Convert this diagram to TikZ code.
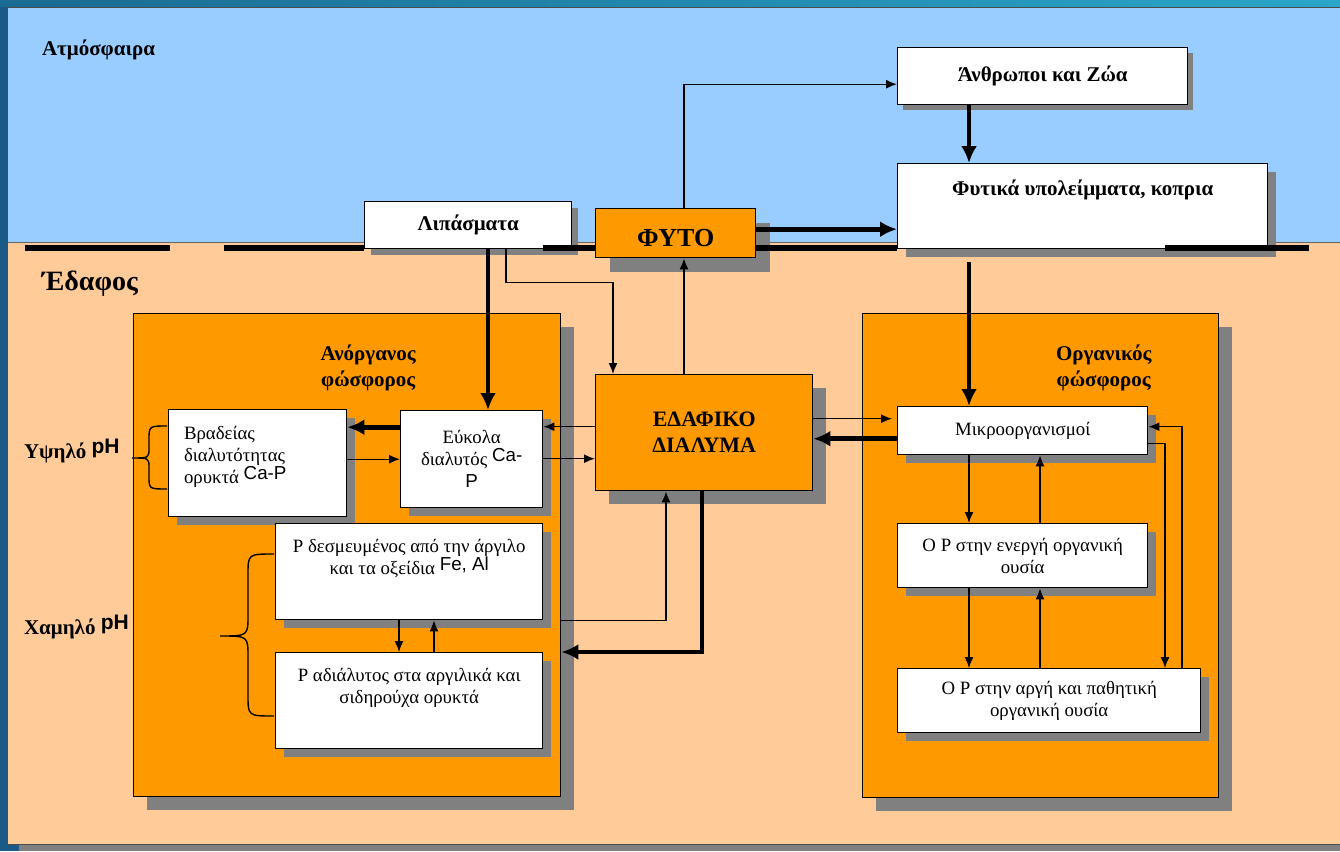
\documentclass[tikz,border=0pt]{standalone}
\usepackage{fontspec}
\setmainfont{Liberation Serif}
\newfontfamily\sansf{Liberation Sans}
\usetikzlibrary{arrows.meta,shadows}

\definecolor{sky}{HTML}{99CCFF}
\definecolor{soil}{HTML}{FFCC99}
\definecolor{orng}{HTML}{FF9900}
\definecolor{shadowgray}{HTML}{808080}
\definecolor{frameblue}{HTML}{1B5A86}
\definecolor{bandleft}{HTML}{1A6A92}
\definecolor{bandright}{HTML}{2AA6C8}

\newcommand\txtsize{\fontsize{18.8}{22}\selectfont}
\newcommand\labsize{\fontsize{21}{26}\selectfont\bfseries}

\begin{document}
\begin{tikzpicture}[x=1pt, y=-1pt, >={Latex[length=11pt,width=9pt]}, line width=1.4pt,
    box/.style={draw, line width=1.4pt, inner sep=2pt, anchor=north west, align=center, font=\txtsize},
    whitebox/.style={box, fill=white, drop shadow={shadow xshift=#1, shadow yshift=-#1, fill=shadowgray, opacity=1}},
    whitebox/.default=8pt,
    orangebox/.style={box, fill=orng, drop shadow={shadow xshift=#1, shadow yshift=-#1, fill=shadowgray, opacity=1}},
    orangebox/.default=13pt,
    bigarrow/.style={line width=4.8pt, -{Latex[length=17pt,width=16pt]}},
    ground/.style={line width=6pt}]
\useasboundingbox (0,0) rectangle (1340,851);

% frame, sky and soil
\fill[frameblue] (0,0) rectangle (1340,851);
\shade[left color=bandleft, right color=bandright] (0,0) rectangle (1340,7);
\fill[shadowgray] (19,14) rectangle (1340,851);
\fill[sky] (7,7) rectangle (1340,242);
\fill[soil] (7,242) rectangle (1340,844);
\draw[line width=0.6pt, black!60] (7,242) -- (1340,242);
\draw[line width=0.8pt, black!70] (1342,7) -- (7,7) -- (7,844) -- (1342,844);

\node[font=\labsize, anchor=base west] (atm) at (38,56) {Ατμόσφαιρα};
\node[font=\fontsize{28}{32}\selectfont\bfseries, anchor=base west] (edafos) at (38,290) {Έδαφος};

% big boxes
\node[orangebox, minimum width=427pt, minimum height=483pt] (anorg) at (133,313) {};
\node[orangebox, minimum width=356pt, minimum height=484pt] (org) at (862,313) {};
\node[font=\labsize, align=center] (anorgtitle) at ([xshift=21pt,yshift=-55pt]anorg.north) {Ανόργανος\\φώσφορος};
\node[font=\labsize, align=center] (orgtitle) at ([xshift=63pt,yshift=-55pt]org.north) {Οργανικός\\φώσφορος};

% top boxes
\node[whitebox=6pt, minimum width=207pt, minimum height=47pt, font=\labsize] (lip) at (364,201) {Λιπάσματα};
\node[orangebox=14pt, minimum width=160pt, minimum height=49pt, text height=26pt,
      font=\fontsize{26}{30}\selectfont\bfseries] (fyto) at (595,208) {ΦΥΤΟ};
\node[whitebox=5pt, minimum width=290pt, minimum height=57pt, font=\labsize] (anth) at (897,47) {Άνθρωποι και Ζώα};
\node[whitebox, minimum width=370pt, minimum height=85pt] (fyt) at (897,163) {};
\node[font=\labsize] (fyttxt) at ([yshift=-27pt]fyt.north) {Φυτικά υπολείμματα, κοπρια};

% inorganic phosphorus
\node[whitebox, minimum width=178pt, minimum height=107pt] (vrad) at (168,409) {};
\node[font=\txtsize, align=left, anchor=west] (vradtxt) at ([xshift=12pt,yshift=6pt]vrad.west)
    {Βραδείας\\διαλυτότητας\\ορυκτά \raisebox{4pt}{\sansf Ca-P}};
\node[whitebox, minimum width=142pt, minimum height=97pt] (eyk) at (400,410)
    {Εύκολα\\διαλυτός \raisebox{4pt}{\sansf Ca-}\\{\sansf P}};
\node[whitebox, minimum width=267pt, minimum height=96pt] (desm) at (275,523) {};
\node[font=\txtsize, align=center] (desmtxt) at ([yshift=-36pt]desm.north)
    {P δεσμευμένος από την άργιλο\\και τα οξείδια \raisebox{4pt}{\sansf Fe, Al}};
\node[whitebox, minimum width=267pt, minimum height=96pt] (adial) at (275,652) {};
\node[font=\txtsize, align=center] (adialtxt) at ([yshift=-36pt]adial.north)
    {P αδιάλυτος στα αργιλικά και\\σιδηρούχα ορυκτά};

% soil solution
\node[orangebox, minimum width=217pt, minimum height=116pt, font=\fontsize{22}{26}\selectfont\bfseries] (edaf) at (595,374) {ΕΔΑΦΙΚΟ\\ΔΙΑΛΥΜΑ};

% organic phosphorus
\node[whitebox, minimum width=250pt, minimum height=48pt] (mikro) at (897,406) {Μικροοργανισμοί};
\node[whitebox, minimum width=250pt, minimum height=64pt] (energ) at (897,523) {O P στην ενεργή οργανική\\ουσία};
\node[whitebox, minimum width=303pt, minimum height=64pt] (arg) at (897,668) {O P στην αργή και παθητική\\οργανική ουσία};

% pH braces
\node[font=\labsize, anchor=base west] (high) at (20,458) {Υψηλό \raisebox{5pt}{\sansf pH}};
\node[font=\labsize, anchor=base west] (low) at (20,634) {Χαμηλό \raisebox{5pt}{\sansf pH}};
\draw (167,426) .. controls (149,426) .. (149,440) -- (149,448) .. controls (149,458) .. (132,458)
      .. controls (149,458) .. (149,468) -- (149,476) .. controls (149,489) .. (167,489);
\draw (274,554) .. controls (248,554) .. (248,575) -- (248,615) .. controls (248,636) .. (220,636)
      .. controls (248,636) .. (248,657) -- (248,695) .. controls (248,716) .. (274,716);

% connectors
\draw[bigarrow] ([xshift=72pt]anth.south west) -- ([xshift=72pt]fyt.north west);
\draw[->] ([xshift=89pt]fyto.north west) |- ([yshift=-8pt]anth.west);
\draw[bigarrow] ([yshift=4pt]fyto.east) -- ([yshift=4pt]fyto.east -| fyt.west);
\draw[bigarrow] ([xshift=72pt,yshift=-13pt]fyt.south west) -- ([xshift=72pt]mikro.north west);
\draw[bigarrow] ([xshift=124pt]lip.south west) -- ([xshift=88pt]eyk.north west);
\draw[->] ([xshift=142pt]lip.south west) -- ++(0,33) -| ([xshift=18pt]edaf.north west);
\draw[->] ([xshift=89pt]edaf.north west) -- ([xshift=89pt]fyto.south west);

\draw[->] ([yshift=6pt]edaf.west) -- ([yshift=6pt]edaf.west -| eyk.east);
\draw[->] ([yshift=-26pt]edaf.west -| eyk.east) -- ([yshift=-26pt]edaf.west);
\draw[bigarrow] ([yshift=32pt]eyk.west) -- ([yshift=32pt]eyk.west -| vrad.east);
\draw[->] (eyk.west -| vrad.east) -- (eyk.west);
\draw[->] ([xshift=124pt]desm.south west) -- ([xshift=124pt]adial.north west);
\draw[->] ([xshift=159pt]adial.north west) -- ([xshift=159pt]desm.south west);
\draw[->] (desm.south -| anorg.east) -| ([xshift=71pt]edaf.south west);
\draw[bigarrow] ([xshift=107pt]edaf.south west) |- (adial.north -| anorg.east);

\draw[->, shorten >=5pt] ([yshift=14pt]edaf.east) -- ([yshift=14pt]edaf.east -| mikro.west);
\draw[bigarrow] ([yshift=-8pt]mikro.west) -- ([yshift=-8pt]mikro.west -| edaf.east);
\foreach \up/\down in {mikro/energ, energ/arg}
{
    \draw[->] ([xshift=72pt]\up.south west) -- ([xshift=72pt]\down.north west);
    \draw[->] ([xshift=143pt]\down.north west) -- ([xshift=143pt]\up.south west);
}
\draw[->] ([yshift=-13pt]mikro.east) -| ([xshift=268pt]arg.north west);
\draw[->] ([xshift=285pt]arg.north west) |- ([yshift=4pt]mikro.east);

% ground line
\foreach \a/\b in {25/170, 224/364, 543/595, 755/897, 1165/1309}
{
    \draw[ground] (\a,248) -- (\b,248);
}
\end{tikzpicture}
\end{document}
